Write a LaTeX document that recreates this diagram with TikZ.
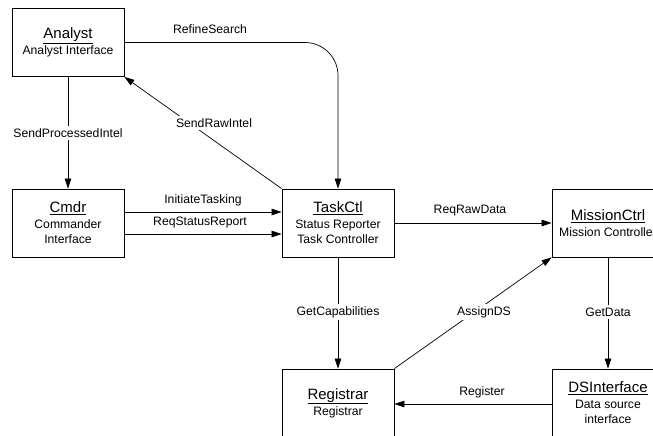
\documentclass[tikz,border=0pt]{standalone}
\usepackage{fontspec}
\setmainfont{Liberation Sans}
\usetikzlibrary{arrows.meta}
\newcommand{\lblfont}{\fontsize{12.2}{15}\selectfont}
\newcommand{\ttlfont}{\fontsize{15}{17}\selectfont}
\tikzset{
  comp/.style={draw, line width=0.8pt, minimum width=112pt, minimum height=68pt, align=center, font=\lblfont, inner sep=0pt},
  conn/.style={line width=0.7pt, -{Triangle[length=10pt,width=6.5pt]}},
  lbl/.style={font=\lblfont, fill=white, inner sep=2.5pt},
}
\begin{document}
\begin{tikzpicture}[x=1pt,y=-1pt]
\clip (0,0) rectangle (653,436);
\fill[white] (0,0) rectangle (653,436);
\node[comp] (analyst) at (68,42.5) {{\ttlfont\underline{Analyst}}\\[1pt]Analyst Interface};
\node[comp] (cmdr) at (68,223) {{\ttlfont\underline{Cmdr}}\\[1pt]Commander\\Interface};
\node[comp] (task) at (338,223) {{\ttlfont\underline{TaskCtl}}\\[1pt]Status Reporter\\Task Controller};
\node[comp] (mission) at (608,223) {{\ttlfont\underline{MissionCtrl}}\\[1pt]Mission Controller};
\node[comp] (reg) at (338,403) {{\ttlfont\underline{Registrar}}\\[1pt]Registrar};
\node[comp] (ds) at (608,403) {{\ttlfont\underline{DSInterface}}\\[1pt]Data source\\interface};

% Analyst -> Cmdr
\draw[conn] (analyst.south) -- (cmdr.north);
\node[lbl] (l1) at (68,133) {SendProcessedIntel};
% RefineSearch
\draw[conn, rounded corners=33pt] (analyst.east) -| (task.north);
\node[font=\lblfont] (l2) at (210,29) {RefineSearch};
% SendRawIntel
\draw[conn] (task.north west) -- (analyst.south east);
\node[lbl] (l3) at (214,123) {SendRawIntel};
% Cmdr -> TaskCtl
\coordinate (c1) at (124,212);
\coordinate (c2) at (124,234);
\draw[conn] (c1) -- (c1 -| task.west);
\node[font=\lblfont] (l4) at (203,200) {InitiateTasking};
\draw[conn] (c2) -- (c2 -| task.west);
\node[font=\lblfont] (l5) at (200,222.5) {ReqStatusReport};
% TaskCtl -> MissionCtrl
\draw[conn] (task.east) -- (mission.west);
\node[font=\lblfont] (l6) at (470,211) {ReqRawData};
% TaskCtl -> Registrar
\draw[conn] (task.south) -- (reg.north);
\node[lbl] (l7) at (338,312) {GetCapabilities};
% Registrar -> MissionCtrl
\draw[conn] (reg.north east) -- (mission.south west);
\node[lbl] (l8) at (484,312) {AssignDS};
% MissionCtrl -> DSInterface
\draw[conn] (mission.south) -- (ds.north);
\node[lbl] (l9) at (608,312) {GetData};
% DSInterface -> Registrar
\coordinate (c3) at (552,404);
\draw[conn] (c3) -- (c3 -| reg.east);
\node[font=\lblfont] (l10) at (482,392) {Register};
\end{tikzpicture}
\end{document}
